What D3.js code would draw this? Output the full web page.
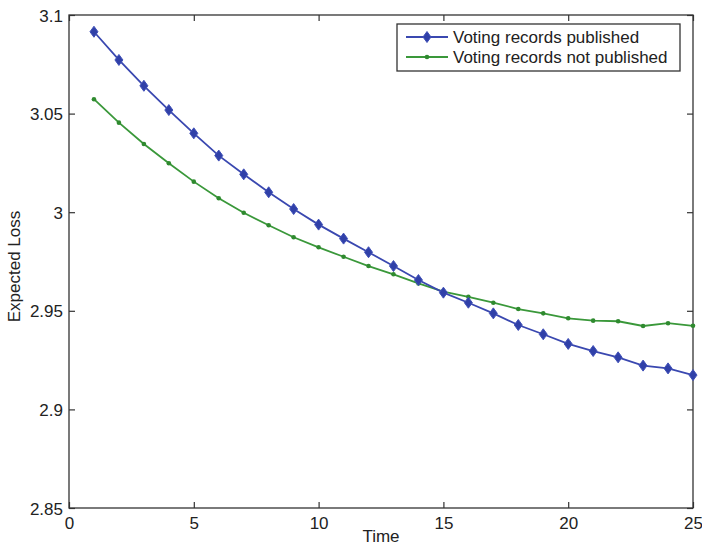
<!DOCTYPE html>
<html>
<head>
<meta charset="utf-8">
<script src="https://cdn.jsdelivr.net/npm/d3@7"></script>
<style>
  html, body { margin: 0; padding: 0; background: #fff; }
  svg { display: block; }
  text { font-family: "Liberation Sans", Arial, Helvetica, sans-serif; fill: #222; }
</style>
</head>
<body>
<svg id="chart" width="702" height="547"></svg>
<script>
const time = d3.range(1, 26);
const published = [3.0915, 3.0772, 3.0641, 3.0518, 3.0400, 3.0287, 3.0192, 3.0101, 3.0016, 2.9937,
                   2.9866, 2.9797, 2.9727, 2.9656, 2.9592, 2.9541, 2.9487, 2.9428, 2.9381, 2.9332,
                   2.9296, 2.9264, 2.9222, 2.9208, 2.9174];
const notPublished = [3.0573, 3.0454, 3.0346, 3.0248, 3.0155, 3.0071, 2.9997, 2.9934, 2.9873, 2.9822,
                      2.9774, 2.9727, 2.9685, 2.9639, 2.9597, 2.9571, 2.9541, 2.9509, 2.9487, 2.9462,
                      2.9450, 2.9447, 2.9423, 2.9437, 2.9424];
const xTicks = [0, 5, 10, 15, 20, 25];
const yTicks = [2.85, 2.9, 2.95, 3, 3.05, 3.1];
const seriesNames = ["Voting records published", "Voting records not published"];

const svg = d3.select("#chart");
const L = 69, R = 693, T = 15, B = 508;
const x = d3.scaleLinear().domain([0, 25]).range([L, R]);
const y = d3.scaleLinear().domain([2.85, 3.1]).range([B, T]);
const axisColor = "#333";
const fs = 17;
const tickLen = 6;

// axes via d3
const gB = svg.append("g").attr("transform", `translate(0,${B})`)
  .call(d3.axisBottom(x).tickValues(xTicks).tickSize(-tickLen).tickPadding(10).tickFormat(d3.format("d")));
const gT = svg.append("g").attr("transform", `translate(0,${T})`)
  .call(d3.axisTop(x).tickValues(xTicks).tickSize(-tickLen).tickFormat(""));
const gL = svg.append("g").attr("transform", `translate(${L},0)`)
  .call(d3.axisLeft(y).tickValues(yTicks).tickSize(-tickLen).tickPadding(6).tickFormat(d => d3.format("")(+d.toFixed(2))));
const gR = svg.append("g").attr("transform", `translate(${R},0)`)
  .call(d3.axisRight(y).tickValues(yTicks).tickSize(-tickLen).tickFormat(""));
[gB, gT, gL, gR].forEach(g => {
  g.select(".domain").remove();
  g.selectAll(".tick line").attr("stroke", axisColor).attr("stroke-width", 1.2);
  g.selectAll(".tick text").attr("font-size", fs).attr("fill", "#222")
    .style("font-family", '"Liberation Sans", Arial, sans-serif');
});
gB.selectAll(".tick text").attr("dy", null).attr("y", 21);
gL.selectAll(".tick text").attr("dy", "0.36em").attr("x", -6);

// box
svg.append("rect").attr("x", L).attr("y", T).attr("width", R - L).attr("height", B - T)
  .attr("fill", "none").attr("stroke", axisColor).attr("stroke-width", 1.3);

// axis labels
svg.append("text").attr("x", (L + R) / 2).attr("y", 542).attr("text-anchor", "middle")
  .attr("font-size", fs).text("Time");
svg.append("text").attr("transform", `translate(20,${(T + B) / 2 + 5}) rotate(-90)`)
  .attr("text-anchor", "middle").attr("font-size", fs).text("Expected Loss");

const blue = "#3a48b0";
const green = "#3a983a";
const line = d3.line().x((d, i) => x(time[i])).y(d => y(d));

// green series
svg.append("path").datum(notPublished).attr("d", line).attr("fill", "none")
  .attr("stroke", green).attr("stroke-width", 1.8);
svg.selectAll(".gdot").data(notPublished).enter().append("circle")
  .attr("cx", (d, i) => x(time[i])).attr("cy", d => y(d)).attr("r", 2.3).attr("fill", "#2f8a2f");

// blue series
svg.append("path").datum(published).attr("d", line).attr("fill", "none")
  .attr("stroke", blue).attr("stroke-width", 1.8);
const diamond = "M0,-5.5 L4,0 L0,5.5 L-4,0 Z";
svg.selectAll(".bdot").data(published).enter().append("path")
  .attr("transform", (d, i) => `translate(${x(time[i])},${y(d)})`)
  .attr("d", diamond).attr("fill", "#3040a8").attr("stroke", "#4050b8").attr("stroke-width", 1);

// legend
const lg = svg.append("g");
lg.append("rect").attr("x", 397).attr("y", 24).attr("width", 283).attr("height", 47)
  .attr("fill", "#fff").attr("stroke", axisColor).attr("stroke-width", 1.3);
const rows = [{name: seriesNames[0], c: blue, yy: 37, m: "d"}, {name: seriesNames[1], c: green, yy: 57, m: "o"}];
rows.forEach(r => {
  lg.append("line").attr("x1", 406).attr("x2", 448).attr("y1", r.yy).attr("y2", r.yy)
    .attr("stroke", r.c).attr("stroke-width", 1.8);
  if (r.m === "d") {
    lg.append("path").attr("transform", `translate(427,${r.yy})`).attr("d", diamond)
      .attr("fill", "#3040a8").attr("stroke", "#4050b8").attr("stroke-width", 1);
  } else {
    lg.append("circle").attr("cx", 427).attr("cy", r.yy).attr("r", 2.3).attr("fill", "#2f8a2f");
  }
  lg.append("text").attr("x", 453).attr("y", r.yy).attr("dy", "0.36em")
    .attr("font-size", fs).text(r.name);
});
</script>
</body>
</html>
